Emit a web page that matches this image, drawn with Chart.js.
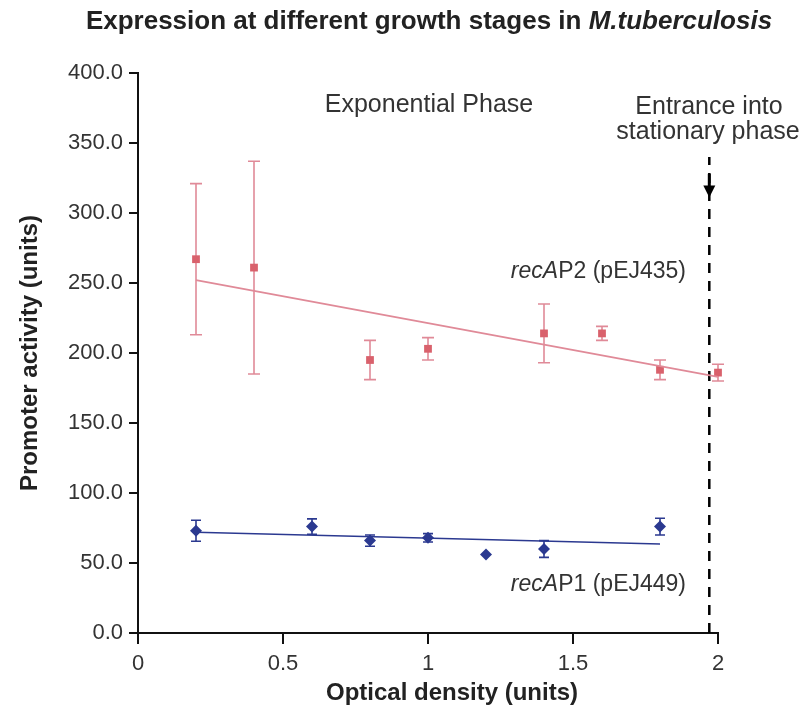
<!DOCTYPE html>
<html>
<head>
<meta charset="utf-8">
<script src="https://cdn.jsdelivr.net/npm/chart.js@4"></script>
<style>
  html, body { margin: 0; padding: 0; background: #fff; }
  #wrap { width: 807px; height: 714px; }
</style>
</head>
<body>
<div id="wrap"><canvas id="chart" width="807" height="714"></canvas></div>
<script>
// --- Data ---
const p2X = [0.2, 0.4, 0.8, 1.0, 1.4, 1.6, 1.8, 2.0];
const p2Y = [267, 261, 195, 203, 214, 214, 188, 186];
const p2Err = [54, 76, 14, 8, 21, 5, 7, 6];
const p2TrendX = [0.2, 2.0];
const p2TrendY = [252, 183];

const p1X = [0.2, 0.6, 0.8, 1.0, 1.2, 1.4, 1.8];
const p1Y = [73, 76, 66, 68, 56, 60, 76];
const p1Err = [7.5, 5.5, 4, 3, 0, 6, 6];
const p1TrendX = [0.2, 1.8];
const p1TrendY = [72, 63.5];

const stationaryX = 1.97;
const stationaryY = [0, 340];

const xTicks = [0, 0.5, 1, 1.5, 2];
const yTicks = [0, 50, 100, 150, 200, 250, 300, 350, 400];

const RED = "#d9616c";
const RED_LINE = "#e08a98";
const BLUE = "#2b3990";
const TXT = "#333";
const FONT = "'Liberation Sans', Arial, sans-serif";

const zip = (xs, ys) => xs.map((x, i) => ({ x, y: ys[i] }));

// --- Error bars, arrow and text labels ---
const extras = {
    id: "extras",
    beforeDatasetsDraw(chart) {
        const { ctx, scales: { x, y } } = chart;
        const bars = [[p2X, p2Y, p2Err, RED_LINE, 6], [p1X, p1Y, p1Err, BLUE, 5]];
        ctx.save();
        bars.forEach(([xs, ys, es, col, cap]) => {
            ctx.strokeStyle = col;
            ctx.lineWidth = 1.6;
            xs.forEach((xv, i) => {
                if (!es[i]) return;
                const px = x.getPixelForValue(xv);
                const top = y.getPixelForValue(ys[i] + es[i]);
                const bot = y.getPixelForValue(ys[i] - es[i]);
                ctx.beginPath();
                ctx.moveTo(px, top); ctx.lineTo(px, bot);
                ctx.moveTo(px - cap, top); ctx.lineTo(px + cap, top);
                ctx.moveTo(px - cap, bot); ctx.lineTo(px + cap, bot);
                ctx.stroke();
            });
        });
        ctx.restore();
    },
    afterDraw(chart) {
        const { ctx, scales: { x, y } } = chart;
        ctx.save();

        // arrow on the stationary line
        const ax = x.getPixelForValue(stationaryX);
        const aTop = y.getPixelForValue(328);
        const aTip = y.getPixelForValue(311);
        ctx.fillStyle = "#000";
        ctx.fillRect(ax - 1.5, aTop, 3, aTip - aTop - 8);
        ctx.beginPath();
        ctx.moveTo(ax - 6, aTip - 12);
        ctx.lineTo(ax + 6, aTip - 12);
        ctx.lineTo(ax, aTip);
        ctx.closePath();
        ctx.fill();

        // title, mixed bold / bold italic
        ctx.fillStyle = "#222";
        ctx.textBaseline = "middle";
        const t1 = "Expression at different growth stages in ";
        const t2 = "M.tuberculosis";
        ctx.font = `bold 26px ${FONT}`;
        const w1 = ctx.measureText(t1).width;
        ctx.font = `italic bold 26px ${FONT}`;
        const w2 = ctx.measureText(t2).width;
        let tx = 429 - (w1 + w2) / 2;
        ctx.textAlign = "left";
        ctx.font = `bold 26px ${FONT}`;
        ctx.fillText(t1, tx, 22);
        ctx.font = `italic bold 26px ${FONT}`;
        ctx.fillText(t2, tx + w1, 22);

        // axis titles
        ctx.font = `bold 24px ${FONT}`;
        ctx.textAlign = "center";
        ctx.fillText("Optical density (units)", 452, 693);
        ctx.save();
        ctx.translate(30, 353);
        ctx.rotate(-Math.PI / 2);
        ctx.fillText("Promoter activity (units)", 0, 0);
        ctx.restore();

        // annotations
        ctx.fillStyle = TXT;
        ctx.font = `25px ${FONT}`;
        ctx.fillText("Exponential Phase", 429, 105);
        ctx.fillText("Entrance into", 709, 107);
        ctx.fillText("stationary phase", 708, 132);

        const series = (ital, rest, right, py) => {
            ctx.font = `23px ${FONT}`;
            const wr = ctx.measureText(rest).width;
            ctx.font = `italic 23px ${FONT}`;
            const wi = ctx.measureText(ital).width;
            ctx.textAlign = "left";
            ctx.fillText(ital, right - wr - wi, py);
            ctx.font = `23px ${FONT}`;
            ctx.fillText(rest, right - wr, py);
        };
        series("recA", "P2 (pEJ435)", 686, 272);
        series("recA", "P1 (pEJ449)", 686, 585);
        ctx.restore();
    }
};

const tickFont = { family: FONT, size: 22 };

new Chart(document.getElementById("chart"), {
    type: "scatter",
    data: {
        datasets: [
            {
                type: "line", data: zip(p2TrendX, p2TrendY), borderColor: RED_LINE,
                borderWidth: 1.8, pointRadius: 0, fill: false, clip: false
            },
            {
                type: "line", data: zip(p1TrendX, p1TrendY), borderColor: BLUE,
                borderWidth: 1.5, pointRadius: 0, fill: false, clip: false
            },
            {
                type: "line", data: stationaryY.map(v => ({ x: stationaryX, y: v })),
                borderColor: "#000", borderWidth: 2.5, borderDash: [10, 8], pointRadius: 0,
                fill: false, clip: false
            },
            {
                data: zip(p2X, p2Y), pointStyle: "rect", pointRadius: 5.5,
                backgroundColor: RED, borderColor: RED, borderWidth: 0, clip: false
            },
            {
                data: zip(p1X, p1Y), pointStyle: "rectRot", pointRadius: 6,
                backgroundColor: BLUE, borderColor: BLUE, borderWidth: 0, clip: false
            }
        ]
    },
    options: {
        responsive: false,
        animation: false,
        layout: { padding: { top: 73, right: 89, left: 0, bottom: 0 } },
        plugins: { legend: { display: false }, tooltip: { enabled: false }, title: { display: false } },
        scales: {
            x: {
                type: "linear", min: 0, max: 2,
                afterFit: s => { s.height = 81; },
                afterBuildTicks: s => { s.ticks = xTicks.map(v => ({ value: v })); },
                border: { color: "#111", width: 2 },
                grid: { drawOnChartArea: false, color: "#111", lineWidth: 2, tickLength: 11 },
                ticks: { color: TXT, font: tickFont, padding: 7, callback: v => String(v) }
            },
            y: {
                min: 0, max: 400,
                afterFit: s => { s.width = 138; },
                afterBuildTicks: s => { s.ticks = yTicks.map(v => ({ value: v })); },
                border: { color: "#111", width: 2 },
                grid: { drawOnChartArea: false, color: "#111", lineWidth: 2, tickLength: 9 },
                ticks: { color: TXT, font: tickFont, padding: 6, callback: v => v.toFixed(1) }
            }
        }
    },
    plugins: [extras]
});
</script>
</body>
</html>
